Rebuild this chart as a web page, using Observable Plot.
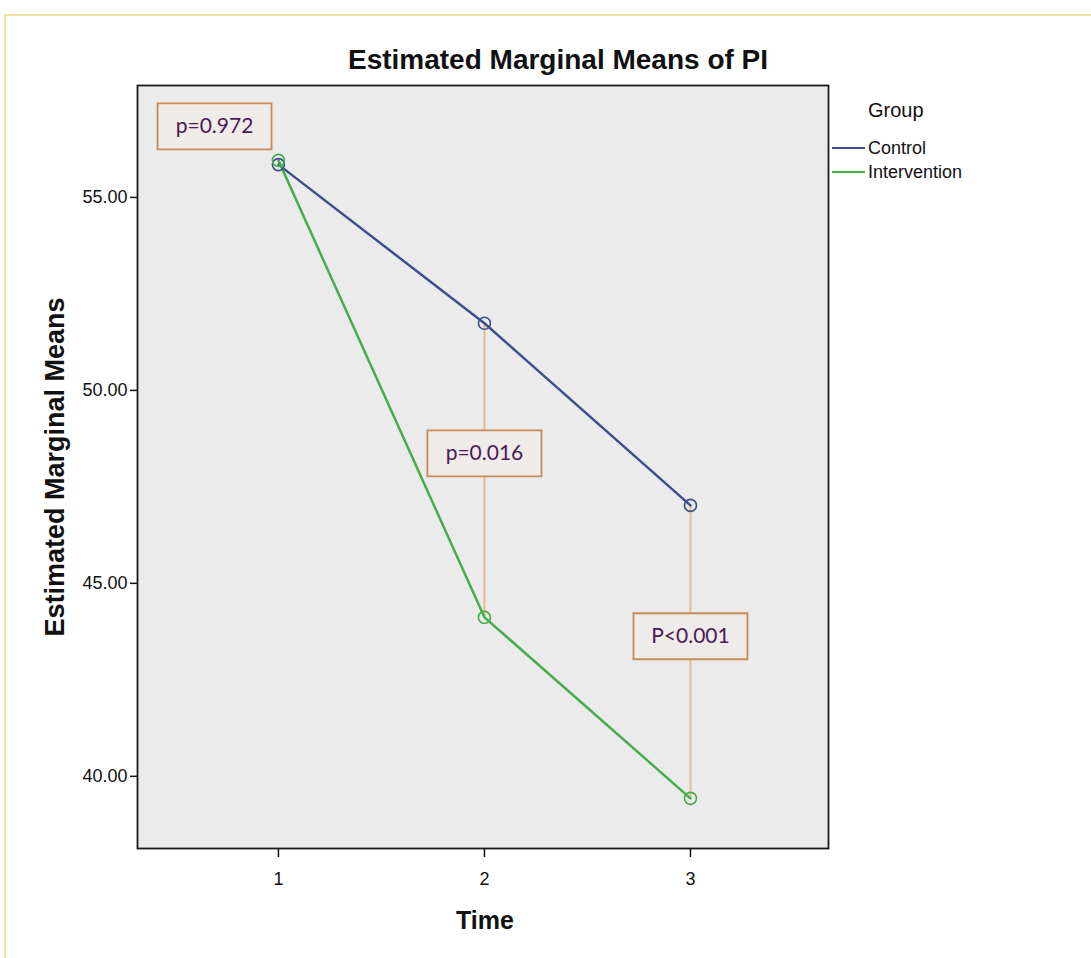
<!DOCTYPE html>
<html>
<head>
<meta charset="utf-8">
<script src="https://cdn.jsdelivr.net/npm/d3@7"></script>
<script src="https://cdn.jsdelivr.net/npm/@observablehq/plot@0.6"></script>
<style>
  html, body { margin: 0; padding: 0; background: #fff; }
  #wrap { position: relative; width: 1091px; height: 958px; overflow: hidden; }
  #border { position: absolute; left: 4px; top: 14px; width: 1200px; height: 1000px;
            border-top: 2px solid #f3e2a4; border-left: 2px solid #f3e2a4; }
  #legend { position: absolute; left: 832px; top: 99px; font-family: "Liberation Sans", Arial, sans-serif; color: #111; }
  #legend .head { font-size: 20px; margin-left: 36px; margin-bottom: 14px; }
  #legend .item { display: flex; align-items: center; font-size: 18px; height: 24px; }
  #legend .sw { width: 33px; height: 2.5px; margin-right: 3px; }
  #chart { position: absolute; left: 0; top: 0; }
</style>
</head>
<body>
<div id="wrap">
  <div id="border"></div>
  <div id="chart"></div>
  <div id="legend"></div>
</div>
<script>
// ---- data ----
const times = [1, 2, 3];
const groups = ["Control", "Intervention"];
const controlMeans = [55.85, 51.74, 47.02];
const interventionMeans = [55.96, 44.12, 39.43];
const groupColors = ["#3c4f8e", "#45ae4b"];
const pLabels = ["p=0.972", "p=0.016", "P<0.001"];
const pLabelX = [0.69, 2, 3];
const pLabelY = [56.84, 48.37, 43.63];
const connectorTimes = [2, 3];
const yTicks = [40, 45, 50, 55];
const xTicks = [1, 2, 3];

const rows = times.flatMap((t, i) => [
  {time: t, mean: controlMeans[i], group: groups[0]},
  {time: t, mean: interventionMeans[i], group: groups[1]}
]);
const connectors = connectorTimes.map(t => {
  const i = times.indexOf(t);
  return {time: t, hi: controlMeans[i], lo: interventionMeans[i]};
});
const notes = pLabels.map((label, i) => ({label, x: pLabelX[i], y: pLabelY[i]}));

const boxSymbol = {
  draw(ctx) {
    const w = 114, h = 46;
    ctx.moveTo(-w / 2, -h / 2);
    ctx.lineTo(w / 2, -h / 2);
    ctx.lineTo(w / 2, h / 2);
    ctx.lineTo(-w / 2, h / 2);
    ctx.closePath();
  }
};

const font = "'Liberation Sans', Arial, sans-serif";

const chart = Plot.plot({
  width: 1091,
  height: 958,
  marginLeft: 137,
  marginRight: 263,
  marginTop: 85,
  marginBottom: 110,
  style: {fontFamily: font, fontSize: "18px", background: "transparent", color: "#111"},
  x: {domain: [0.316, 3.67]},
  y: {domain: [38.13, 57.9]},
  color: {domain: groups, range: groupColors},
  marks: [
    Plot.frame({fill: "#ebebeb"}),
    Plot.ruleX(connectors, {x: "time", y1: "lo", y2: "hi", stroke: "#e9b98e", strokeWidth: 2}),
    Plot.line(rows, {x: "time", y: "mean", z: "group", stroke: "group", strokeWidth: 2.5}),
    Plot.dot(rows, {x: "time", y: "mean", stroke: "group", r: 6, strokeWidth: 1.6}),
    Plot.dot(notes, {x: "x", y: "y", symbol: boxSymbol, fill: "#efebe8", stroke: "#c98a55", strokeWidth: 1.8}),
    Plot.text(notes, {x: "x", y: "y", text: "label", fill: "#4a1a58", fontSize: 21, fontFamily: "Lato, 'Open Sans', sans-serif"}),
    Plot.frame({stroke: "#1a1a1a", strokeWidth: 1.8}),
    Plot.axisY({ticks: yTicks, tickFormat: d3.format(".2f"), tickSize: 7, tickPadding: 3, label: null, stroke: "#111", strokeWidth: 1.5}),
    Plot.axisX({ticks: xTicks, tickFormat: d3.format("d"), tickSize: 9, tickPadding: 15, label: null, stroke: "#111", strokeWidth: 1.5}),
    Plot.text(["Estimated Marginal Means"], {frameAnchor: "left", textAnchor: "middle", lineAnchor: "middle", dx: -82, rotate: -90, fontSize: 27, fontWeight: "bold"}),
    Plot.text(["Time"], {frameAnchor: "bottom", lineAnchor: "middle", dx: 2, dy: 72, fontSize: 25, fontWeight: "bold"}),
    Plot.text(["Estimated Marginal Means of PI"], {frameAnchor: "top", lineAnchor: "middle", dx: 75, dy: -25, fontSize: 28, fontWeight: "bold"})
  ]
});
document.getElementById("chart").appendChild(chart);

// legend
const legend = document.getElementById("legend");
const head = document.createElement("div");
head.className = "head";
head.textContent = "Group";
legend.appendChild(head);
groups.forEach((g, i) => {
  const item = document.createElement("div");
  item.className = "item";
  const sw = document.createElement("div");
  sw.className = "sw";
  sw.style.background = groupColors[i];
  const lab = document.createElement("span");
  lab.textContent = g;
  item.appendChild(sw);
  item.appendChild(lab);
  legend.appendChild(item);
});
</script>
</body>
</html>
